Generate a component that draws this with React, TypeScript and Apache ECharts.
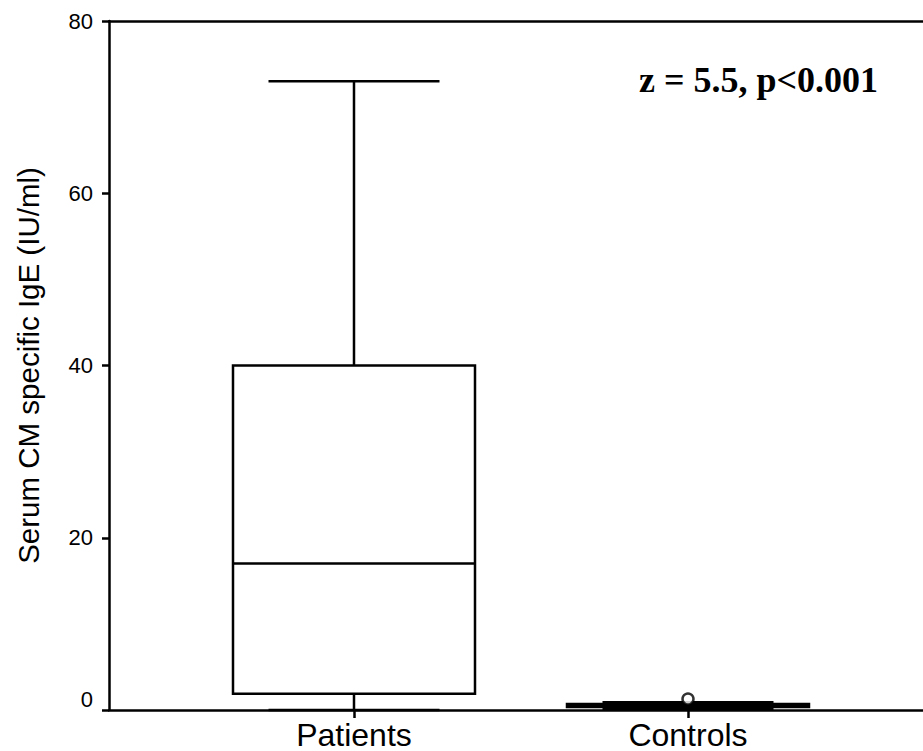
import React, { useEffect, useRef } from "react";
import * as echarts from "echarts";

const categories = ["Patients", "Controls"];
const categoryPositions = [1, 2];
const whiskerLow = [0, 0.1];
const quartile1 = [1.9, 0.35];
const medians = [17, 0.5];
const quartile3 = [40, 0.7];
const whiskerHigh = [73, 0.9];
const outliers: [number, number][] = [[2, 1.28]];
const yMin = 0;
const yMax = 80;
const yInterval = 20;
const yTitle = "Serum CM specific IgE (IU/ml)";
const annotation = "z = 5.5, p<0.001";

const SANS = "'Liberation Sans', Arial, Helvetica, sans-serif";
const SERIF = "'Liberation Serif', 'Times New Roman', serif";

export default function App() {
  const ref = useRef<HTMLDivElement>(null);
  useEffect(() => {
    if (!ref.current) return;
    const chart = echarts.init(ref.current, undefined, { renderer: "svg" });
    const boxData = categoryPositions.map((p, i) => [
      p,
      whiskerLow[i],
      quartile1[i],
      medians[i],
      quartile3[i],
      whiskerHigh[i],
    ]);
    const xMin = 0.26647;
    const xMax = 2.7036;
    const LW = 2.5;
    const lineStyle = { stroke: "#000", lineWidth: LW, fill: "none" };
    const option: any = {
      animation: false,
      backgroundColor: "#fff",
      grid: { left: 109, right: 0, top: 21, bottom: 40, containLabel: false },
      xAxis: [
        {
          type: "value",
          min: xMin,
          max: xMax,
          position: "bottom",
          axisLine: { show: true, onZero: false, lineStyle: { color: "#000", width: LW } },
          axisTick: {
            show: true,
            customValues: categoryPositions,
            length: 8,
            lineStyle: { color: "#000", width: LW },
          },
          axisLabel: {
            show: true,
            customValues: categoryPositions,
            formatter: (v: number) => categories[categoryPositions.indexOf(v)] ?? "",
            fontSize: 32,
            fontFamily: SANS,
            color: "#000",
            margin: 9,
          },
          splitLine: { show: false },
        },
        {
          type: "value",
          min: xMin,
          max: xMax,
          position: "top",
          axisLine: { show: true, onZero: false, lineStyle: { color: "#000", width: LW } },
          axisTick: { show: false },
          axisLabel: { show: false },
          splitLine: { show: false },
        },
      ],
      yAxis: {
        type: "value",
        min: yMin,
        max: yMax,
        interval: yInterval,
        name: yTitle,
        nameLocation: "middle",
        nameGap: 66,
        nameTextStyle: { fontSize: 29.5, fontFamily: SANS, color: "#000" },
        axisLine: { show: true, onZero: false, lineStyle: { color: "#000", width: LW } },
        axisTick: { show: true, length: 7, lineStyle: { color: "#000", width: LW } },
        axisLabel: {
          fontSize: 22,
          fontFamily: SANS,
          color: "#000",
          margin: 16,
          formatter: (v: number) => (v === 0 ? "{z|0}" : String(v)),
          rich: { z: { fontSize: 22, fontFamily: SANS, color: "#000", padding: [0, 0, 22, 0] } },
        },
        splitLine: { show: false },
      },
      graphic: [
        {
          type: "text",
          right: 45,
          top: 62,
          style: {
            text: annotation,
            font: `bold 36px ${SERIF}`,
            fill: "#000",
          },
        },
      ],
      series: [
        {
          type: "custom",
          xAxisIndex: 0,
          data: boxData,
          encode: { x: 0, y: [1, 2, 3, 4, 5] },
          renderItem: (params: any, api: any) => {
            const x = api.value(0);
            const c = api.coord([x, api.value(1)]);
            const cx = c[0];
            const yLo = c[1];
            const yQ1 = api.coord([x, api.value(2)])[1];
            const yMed = api.coord([x, api.value(3)])[1];
            const yQ3 = api.coord([x, api.value(4)])[1];
            const yHi = api.coord([x, api.value(5)])[1];
            const hb = 121;
            const hc = 85.5;
            return {
              type: "group",
              children: [
                { type: "line", shape: { x1: cx, y1: yQ3, x2: cx, y2: yHi }, style: lineStyle },
                { type: "line", shape: { x1: cx, y1: yQ1, x2: cx, y2: yLo }, style: lineStyle },
                { type: "line", shape: { x1: cx - hc, y1: yHi, x2: cx + hc, y2: yHi }, style: lineStyle },
                { type: "line", shape: { x1: cx - hc, y1: yLo, x2: cx + hc, y2: yLo }, style: lineStyle },
                {
                  type: "rect",
                  shape: { x: cx - hb, y: yQ3, width: 2 * hb, height: yQ1 - yQ3 },
                  style: { ...lineStyle, fill: "#fff" },
                },
                { type: "line", shape: { x1: cx - hb, y1: yMed, x2: cx + hb, y2: yMed }, style: lineStyle },
              ],
            };
          },
          z: 2,
        },
        {
          type: "scatter",
          xAxisIndex: 0,
          data: outliers,
          symbol: "circle",
          symbolSize: 11,
          itemStyle: { color: "#fff", borderColor: "#000", borderWidth: 2.5 },
          z: 3,
        },
      ],
    };
    chart.setOption(option);
    return () => chart.dispose();
  }, []);
  return (
    <div
      ref={ref}
      style={{ position: "absolute", left: 0, top: 0, width: 923, height: 751, background: "#fff" }}
    />
  );
}
